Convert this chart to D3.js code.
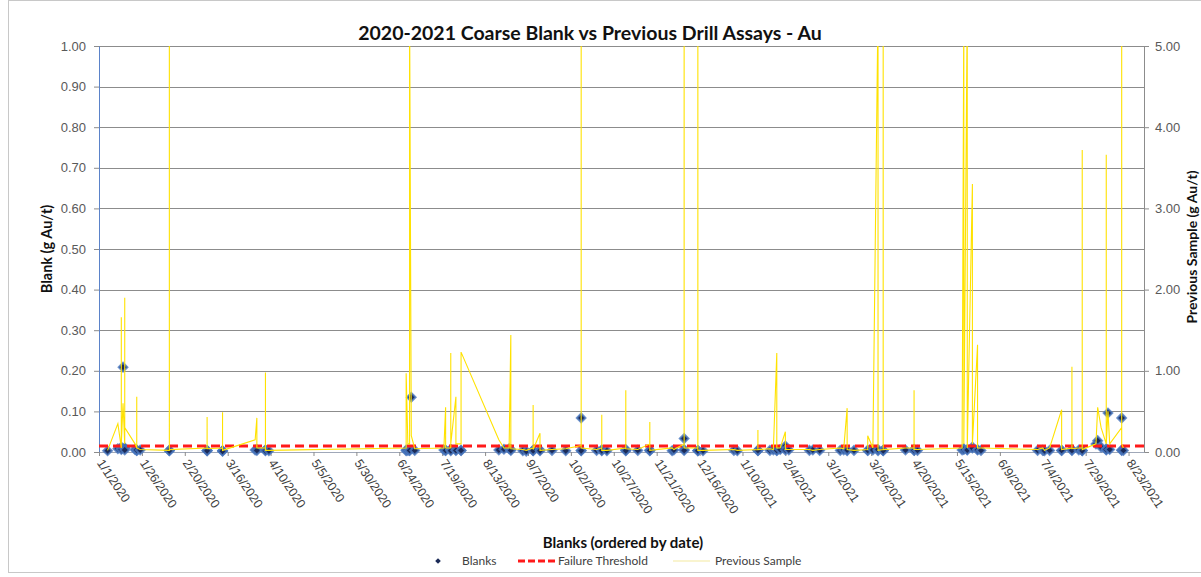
<!DOCTYPE html>
<html>
<head>
<meta charset="utf-8">
<script src="https://cdn.jsdelivr.net/npm/d3@7"></script>
<style>
  body { margin: 0; background: #fff; }
  svg { display: block; font-family: Lato, "Open Sans", sans-serif; }
</style>
</head>
<body>
<svg id="chart" width="1201" height="577"></svg>
<script>
// values (several blanks can share one date)
const sampleDates = [
  '2020-01-06','2020-01-12','2020-01-14','2020-01-14','2020-01-14','2020-01-15','2020-01-16','2020-01-16','2020-01-16',
  '2020-01-22','2020-01-23','2020-01-23','2020-01-23','2020-01-25',
  '2020-02-11','2020-02-11','2020-02-11',
  '2020-03-04','2020-03-04','2020-03-04','2020-03-13','2020-03-13','2020-03-13',
  '2020-04-01','2020-04-02','2020-04-02','2020-04-07','2020-04-07','2020-04-07','2020-04-09',
  '2020-06-28','2020-06-28','2020-06-29','2020-06-30','2020-06-30','2020-07-01','2020-07-03',
  '2020-07-20','2020-07-21','2020-07-21','2020-07-24','2020-07-24','2020-07-24','2020-07-27','2020-07-27',
  '2020-07-30','2020-07-30',
  '2020-08-21','2020-08-24','2020-08-27','2020-08-28','2020-08-28',
  '2020-09-04','2020-09-06','2020-09-10','2020-09-10','2020-09-10','2020-09-14','2020-09-14','2020-09-21','2020-09-29',
  '2020-10-08','2020-10-08','2020-10-08','2020-10-17','2020-10-20','2020-10-20','2020-10-20','2020-10-23',
  '2020-11-03','2020-11-03','2020-11-03','2020-11-10','2020-11-17','2020-11-17','2020-11-17','2020-11-30',
  '2020-12-01','2020-12-07','2020-12-07','2020-12-07','2020-12-15','2020-12-15','2020-12-15','2020-12-18',
  '2021-01-05','2021-01-07','2021-01-19','2021-01-19','2021-01-19','2021-01-26','2021-01-28','2021-01-30','2021-01-30',
  '2021-02-01','2021-02-04','2021-02-04','2021-02-06','2021-02-18','2021-02-20','2021-02-24',
  '2021-03-08','2021-03-10','2021-03-12','2021-03-12','2021-03-16','2021-03-24','2021-03-24','2021-03-27',
  '2021-03-30','2021-03-30','2021-04-02','2021-04-02','2021-04-02',
  '2021-04-15','2021-04-20','2021-04-20','2021-04-20','2021-04-22',
  '2021-05-18','2021-05-19','2021-05-19','2021-05-21','2021-05-21','2021-05-24','2021-05-24','2021-05-27','2021-05-27',
  '2021-05-29',
  '2021-07-01','2021-07-04','2021-07-05','2021-07-08','2021-07-15','2021-07-15','2021-07-21','2021-07-21','2021-07-21',
  '2021-07-25','2021-07-27','2021-07-27','2021-07-27',
  '2021-08-04','2021-08-05','2021-08-07','2021-08-10','2021-08-10','2021-08-10','2021-08-11','2021-08-12',
  '2021-08-19','2021-08-19','2021-08-19','2021-08-20'
];

const blankValues = [
  0.003,0.008,0.012,0.009,0.006,0.209,0.010,0.010,0.005,
  0.006,0.004,0.004,0.005,0.005,
  0.004,0.004,0.003,
  0.003,0.004,0.003,0.003,0.003,0.002,
  0.005,0.006,0.004,0.005,0.005,0.003,0.003,
  0.003,0.005,0.004,0.004,0.004,0.135,0.004,
  0.005,0.004,0.004,0.006,0.006,0.003,0.005,0.004,
  0.004,0.004,
  0.005,0.007,0.008,0.006,0.004,
  0.003,0.002,0.004,0.004,0.003,0.005,0.003,0.004,0.003,
  0.004,0.084,0.003,0.004,0.005,0.005,0.003,0.003,
  0.004,0.006,0.003,0.004,0.005,0.003,0.004,0.003,
  0.005,0.006,0.033,0.004,0.003,0.004,0.003,0.003,
  0.004,0.003,0.004,0.004,0.004,0.004,0.005,0.004,0.004,
  0.006,0.015,0.005,0.005,0.004,0.005,0.004,
  0.004,0.005,0.003,0.005,0.004,0.004,0.004,0.005,
  0.003,0.006,0.004,0.004,0.003,
  0.005,0.005,0.006,0.004,0.004,
  0.005,0.008,0.006,0.006,0.005,0.012,0.010,0.006,0.005,
  0.004,
  0.004,0.004,0.003,0.004,0.004,0.004,0.005,0.006,0.004,
  0.005,0.004,0.004,0.003,
  0.020,0.028,0.012,0.008,0.005,0.006,0.096,0.006,
  0.005,0.084,0.004,0.004
];

const previousValues = [
  0.02,0.35,0.05,1.66,0.10,0.60,0.10,1.90,0.30,
  0.10,0.05,0.68,0.05,0.03,
  0.02,5.50,0.03,
  0.05,0.43,0.04,0.05,0.49,0.02,
  0.15,0.42,0.05,0.05,0.98,0.02,0.02,
  0.05,0.97,0.10,0.10,5.50,0.20,0.04,
  0.05,0.55,0.05,0.05,1.22,0.10,0.68,0.10,
  0.10,1.23,
  0.15,0.05,0.05,1.44,0.04,
  0.03,0.02,0.05,0.58,0.03,0.23,0.02,0.03,0.04,
  0.08,5.50,0.05,0.03,0.05,0.46,0.02,0.02,
  0.05,0.76,0.04,0.03,0.10,0.37,0.02,0.05,
  0.03,0.10,5.50,0.05,0.05,5.50,0.02,0.02,
  0.03,0.02,0.03,0.27,0.03,0.04,0.03,1.22,0.05,
  0.05,0.25,0.03,0.03,0.03,0.02,0.03,
  0.05,0.04,0.54,0.03,0.02,0.03,0.20,0.05,
  5.50,0.02,0.03,5.50,0.03,
  0.05,0.05,0.76,0.03,0.03,
  0.05,5.50,0.10,5.50,0.05,3.30,0.10,1.32,0.05,
  0.05,
  0.03,0.05,0.02,0.05,0.52,0.03,0.05,1.05,0.04,
  0.05,0.05,3.72,0.03,
  0.10,0.55,0.30,0.10,3.66,0.10,0.50,0.10,
  0.30,5.50,0.10,0.05
];

const failureThreshold = 0.015;

const xTickLabels = ['1/1/2020','1/26/2020','2/20/2020','3/16/2020','4/10/2020','5/5/2020','5/30/2020',
  '6/24/2020','7/19/2020','8/13/2020','9/7/2020','10/2/2020','10/27/2020','11/21/2020','12/16/2020',
  '1/10/2021','2/4/2021','3/1/2021','3/26/2021','4/20/2021','5/15/2021','6/9/2021','7/4/2021',
  '7/29/2021','8/23/2021'];
const xDomain = ['2020-01-01', '2021-09-01'];
const leftTicks = [0, 0.1, 0.2, 0.3, 0.4, 0.5, 0.6, 0.7, 0.8, 0.9, 1.0];
const rightTicks = [0, 1, 2, 3, 4, 5];

const parseIso = d3.timeParse('%Y-%m-%d');
const parseUs = d3.timeParse('%-m/%-d/%Y');
const fmtUs = d3.timeFormat('%-m/%-d/%Y');

const data = sampleDates.map((d, i) => ({
  date: parseIso(d), blank: blankValues[i], prev: previousValues[i]
}));

const plotLeft = 99, plotRight = 1144, plotTop = 46, plotBottom = 452;
const svg = d3.select('#chart');

const x = d3.scaleTime().domain(xDomain.map(parseIso)).range([plotLeft, plotRight]);
const y = d3.scaleLinear().domain([0, 1]).range([plotBottom, plotTop]);
const y2 = d3.scaleLinear().domain([0, 5]).range([plotBottom, plotTop]);

// outer chart border
svg.append('rect')
  .attr('x', 8.5).attr('y', 0.5).attr('width', 1220).attr('height', 572)
  .attr('fill', 'none').attr('stroke', '#c8c8c8');

svg.append('defs').append('clipPath').attr('id', 'plot-clip')
  .append('rect').attr('x', plotLeft).attr('y', plotTop)
  .attr('width', plotRight - plotLeft).attr('height', plotBottom - plotTop);

// gridlines
svg.append('g')
  .selectAll('line')
  .data(leftTicks.filter(d => d > 0))
  .enter()
  .append('line')
  .attr('x1', plotLeft).attr('x2', plotRight)
  .attr('y1', d => Math.round(y(d)) + 0.5).attr('y2', d => Math.round(y(d)) + 0.5)
  .attr('stroke', '#8c8c8c')
  .attr('stroke-width', 1);

// left axis
const yAxis = svg.append('g')
  .attr('transform', `translate(${plotLeft},0)`)
  .call(d3.axisLeft(y).tickValues(leftTicks).tickFormat(d3.format('.2f')).tickSize(5).tickSizeOuter(0));
yAxis.select('.domain').attr('stroke', '#5b83c9');
yAxis.selectAll('.tick line').attr('stroke', '#8c8c8c');
yAxis.selectAll('text').attr('x', -13).attr('fill', '#595959').style('font-size', '13px');

// right axis
const y2Axis = svg.append('g')
  .attr('transform', `translate(${plotRight},0)`)
  .call(d3.axisRight(y2).tickValues(rightTicks).tickFormat(d3.format('.2f')).tickSize(5).tickSizeOuter(0));
y2Axis.select('.domain').attr('stroke', '#8c8c8c');
y2Axis.selectAll('.tick line').attr('stroke', '#8c8c8c');
y2Axis.selectAll('text').attr('x', 11).attr('fill', '#595959').style('font-size', '13px');

// bottom axis
const xAxis = svg.append('g')
  .attr('transform', `translate(0,${plotBottom})`)
  .call(d3.axisBottom(x).tickValues(xTickLabels.map(parseUs)).tickFormat(fmtUs).tickSize(4).tickSizeOuter(0));
xAxis.select('.domain').attr('stroke', '#a0a8b8');
xAxis.selectAll('.tick line').attr('stroke', '#8c8c8c');
xAxis.selectAll('text')
  .attr('y', 0).attr('dy', 0)
  .attr('text-anchor', 'start')
  .attr('transform', 'translate(-3,11) rotate(56)')
  .attr('fill', '#404040')
  .style('font-size', '12.5px');

// blanks: square diamonds with a blue rim
svg.append('g')
  .selectAll('path')
  .data(data)
  .enter()
  .append('path')
  .attr('transform', d => `translate(${x(d.date)},${y(d.blank)}) rotate(45)`)
  .attr('d', d3.symbol().type(d3.symbolSquare).size(38))
  .attr('fill', '#1b2a57')
  .attr('stroke', '#4a78bf')
  .attr('stroke-width', 2)
  .attr('stroke-opacity', 0.8);

// failure threshold
svg.append('line')
  .attr('x1', plotLeft).attr('x2', plotRight)
  .attr('y1', y(failureThreshold)).attr('y2', y(failureThreshold))
  .attr('stroke', '#ff1a1a')
  .attr('stroke-width', 3)
  .attr('stroke-dasharray', '9,5');

// previous sample line (secondary axis)
svg.append('path')
  .datum(data)
  .attr('clip-path', 'url(#plot-clip)')
  .attr('fill', 'none')
  .attr('stroke', '#ffe200')
  .attr('stroke-width', 1.1)
  .attr('d', d3.line().x(d => x(d.date)).y(d => y2(d.prev)));

// title
svg.append('text')
  .attr('x', 590).attr('y', 40)
  .attr('text-anchor', 'middle')
  .attr('font-weight', 'bold')
  .style('font-size', '19.5px')
  .attr('fill', '#111')
  .text('2020-2021 Coarse Blank vs Previous Drill Assays - Au');

// axis titles
svg.append('text')
  .attr('transform', `translate(52,${(plotTop + plotBottom) / 2}) rotate(-90)`)
  .attr('text-anchor', 'middle')
  .attr('font-weight', 'bold')
  .style('font-size', '14.5px')
  .attr('fill', '#111')
  .text('Blank (g Au/t)');

svg.append('text')
  .attr('transform', `translate(1197,${(plotTop + plotBottom) / 2 - 2}) rotate(-90)`)
  .attr('text-anchor', 'middle')
  .attr('font-weight', 'bold')
  .style('font-size', '14px')
  .attr('fill', '#111')
  .text('Previous Sample (g Au/t)');

svg.append('text')
  .attr('x', 623).attr('y', 548)
  .attr('text-anchor', 'middle')
  .attr('font-weight', 'bold')
  .style('font-size', '15px')
  .attr('fill', '#111')
  .text('Blanks (ordered by date)');

// legend
const legend = svg.append('g').attr('transform', 'translate(0,561)')
  .style('font-size', '12px').attr('fill', '#404040');
legend.append('path')
  .attr('transform', 'translate(438,0) rotate(45)')
  .attr('d', d3.symbol().type(d3.symbolSquare).size(16))
  .attr('fill', '#1b2a57');
legend.append('text').attr('x', 462).attr('dy', '0.35em').text('Blanks');
legend.append('line')
  .attr('x1', 518).attr('x2', 555)
  .attr('stroke', '#ff1a1a').attr('stroke-width', 3).attr('stroke-dasharray', '7,3');
legend.append('text').attr('x', 558).attr('dy', '0.35em').text('Failure Threshold');
legend.append('line')
  .attr('x1', 673).attr('x2', 710)
  .attr('stroke', '#f3eaa0').attr('stroke-width', 1.2);
legend.append('text').attr('x', 715).attr('dy', '0.35em').text('Previous Sample');
</script>
</body>
</html>
